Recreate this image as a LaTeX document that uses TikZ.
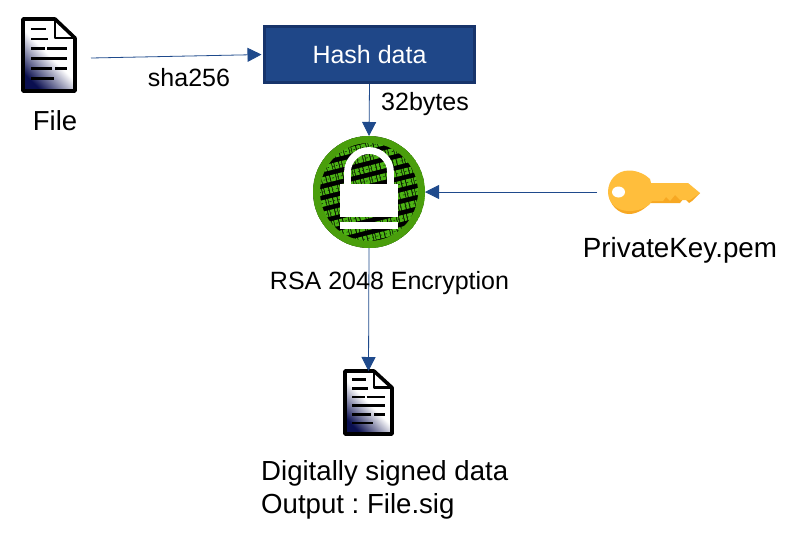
\documentclass[tikz,border=0pt]{standalone}
\usepackage{fontspec}
\setmainfont{Liberation Sans}
\usetikzlibrary{arrows.meta}
\definecolor{arrowblue}{HTML}{1F4A8C}
\definecolor{boxblue}{HTML}{1F4788}
\definecolor{boxedge}{HTML}{17346B}
\definecolor{ringgreen}{HTML}{4A9E0C}
\definecolor{codegreen}{HTML}{4CB414}
\definecolor{keygold}{HTML}{FFBE3C}
\definecolor{keyedge}{HTML}{F7A823}
\definecolor{docnavy}{HTML}{0A0F50}
\tikzset{
  conn/.style={draw=arrowblue,line width=0.8pt,-{Triangle[length=14pt,width=14pt]}},
  lab/.style={inner sep=0pt,anchor=base,text=black},
  ghost/.style={inner sep=0pt,outer sep=0pt,draw=none},
  docpage/.pic={
    \shadedraw[draw=black,line width=3.6pt,line join=bevel,
       bottom color=docnavy,top color=white,middle color=white,shading=axis,shading angle=-45]
       (0,0) -- (32,0) -- (52,19) -- (52,72) -- (0,72) -- cycle;
    \draw[black,line width=2.4pt,line join=bevel] (32,0) -- (32,19) -- (52,19);
    \draw[black,line width=2.6pt]
      (8,10) -- (23,10) (8,20) -- (25,20)
      (8,29.5) -- (22,29.5) (24,29.5) -- (44,29.5)
      (8,39.5) -- (44,39.5)
      (8,49.5) -- (29,49.5) (32,49.5) -- (44,49.5)
      (8,59.5) -- (31,59.5);
  }
}
\begin{document}
\frenchspacing
\begin{tikzpicture}[x=1pt,y=-1pt]
\useasboundingbox (0,0) rectangle (791,539);
\fill[white] (0,0) rectangle (791,539);

% file icon
\pic at (23,19) {docpage};
\pic[xscale=0.904,yscale=0.875] at (345,371) {docpage};
\node[ghost,minimum width=47pt,minimum height=63pt] (sigdoc) at (368.5,402.5) {};

% hash box
\node[draw=boxedge,fill=boxblue,line width=3pt,minimum width=210pt,minimum height=56pt,inner sep=0pt,text=white,font=\fontsize{25}{25}\selectfont] (hash) at (369.5,54.5) {Hash data};

% lock
\node[ghost,circle,minimum size=112pt] (lock) at (369,192) {};
\begin{scope}
  \clip (369,192) circle (56);
  \fill[black] (369,192) circle (56);
  \begin{scope}[rotate around={14:(369,192)}]
    \foreach \r/\p/\q/\o in {-6/3/1/0,-5/2.5/0.8/1,-4/3.5/0.8/2,-3/2/0.8/0.5,-2/3/1/3,-1/2.5/0.8/1.5,0/3.5/1/2.5,1/2/0.8/0,2/3/1/1,3/2.5/0.9/2,4/3.5/1/0.5,5/2/1/1.5,6/3/0.8/0}{
      \draw[codegreen,line width=6.4pt,dash pattern=on \p pt off \q pt on 5pt off 0.8pt on 1.5pt off 0.8pt on 4pt off 1pt,dash phase=\o pt]
        (300,192+\r*11.2) -- (440,192+\r*11.2);
      \draw[black!70!codegreen,line width=0.7pt,dash pattern=on 1.4pt off 3pt on 2pt off 2.4pt,dash phase=\o pt]
        (300,192+\r*11.2) -- (440,192+\r*11.2);
    }
  \end{scope}
\end{scope}
\draw[ringgreen,line width=7pt] (369,192) circle (52.5);
\draw[white,line width=6.8pt] (347.5,184) -- (347.5,172) .. controls (347.5,160.13) and (357.13,150.5) .. (369,150.5) .. controls (380.87,150.5) and (390.5,160.13) .. (390.5,172) -- (390.5,184);
\fill[white] (340,184) rectangle (398,217);
\fill[white] (340,222) rectangle (398,229);

% key
\node[ghost,minimum width=92pt,minimum height=44pt] (key) at (654,192) {};
\fill[keyedge]
  (609,194) .. controls (609,204) and (618,214) .. (629,214) .. controls (638,214) and (646,208) .. (650,203)
  -- (680,203) -- (684,198) -- (689,203) -- (692,201) -- (700,193) -- (660,190) -- cycle;
\fill[keygold]
  (608,192) .. controls (608,180) and (617,170.5) .. (629,170.5) .. controls (638,170.5) and (646,175) .. (650,179)
  -- (651,183) -- (688,183) -- (700,193) -- (690,200) -- (680,200) -- (675,195) -- (670,201)
  -- (666,197) -- (663,201) -- (652,201) -- (649,205)
  .. controls (645,208) and (638,211) .. (629,211) .. controls (617,211) and (608,203) .. (608,192) -- cycle;
\fill[white] (618.5,192) ellipse[x radius=6.5,y radius=5.5];

% connectors
\coordinate (fileout) at (91,58);
\coordinate (keyout) at (597,192);
\draw[conn,shorten >=1.5pt] (fileout) -- (hash.west);
\draw[conn] (hash.south) -- (lock.north);
\draw[conn] (keyout) -- (lock.east);
\draw[conn] (lock.south) -- (sigdoc.north);

% labels
\node[lab,font=\fontsize{27.5}{27.5}\selectfont] (filelab) at (55,130) {File};
\node[lab,font=\fontsize{25}{25}\selectfont] (shalab) at (189,86) {sha256};
\node[lab,font=\fontsize{25}{25}\selectfont] (byteslab) at (425,110) {32bytes};
\node[lab,font=\fontsize{27.8}{27.8}\selectfont] (keylab) at (680,257) {PrivateKey.pem};
\node[lab,font=\fontsize{25}{25}\selectfont] (rsalab) at (389.5,289) {RSA 2048 Encryption};
\node[lab,anchor=base west,font=\fontsize{27.6}{27.6}\selectfont] (siglab) at (261,480) {Digitally signed data};
\node[lab,anchor=base west,font=\fontsize{27.6}{27.6}\selectfont] (outlab) at (261,513) {Output : File.sig};
\end{tikzpicture}
\end{document}
